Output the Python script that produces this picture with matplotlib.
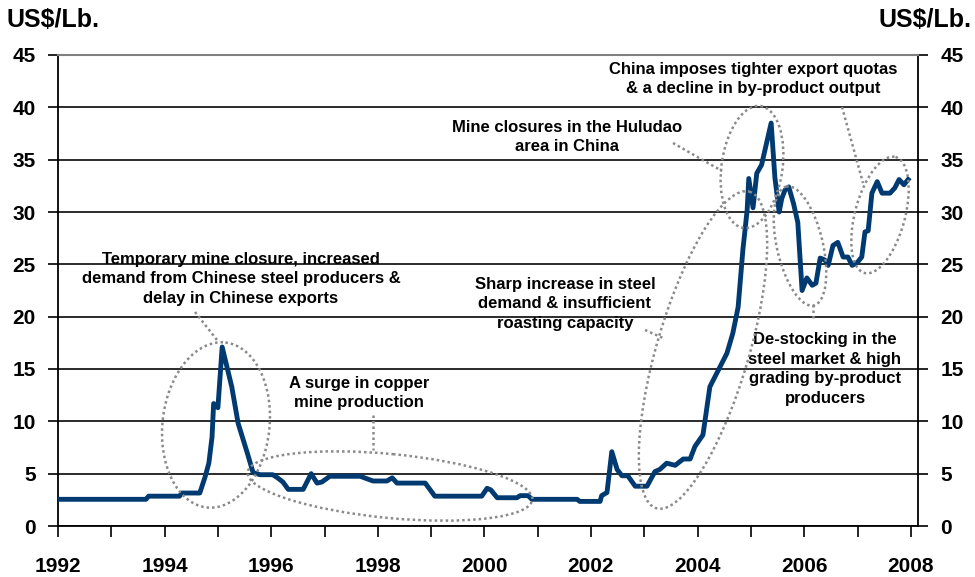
import matplotlib
matplotlib.use("Agg")
import matplotlib.pyplot as plt
from matplotlib.patches import Ellipse
from matplotlib.transforms import Affine2D

plt.rcParams['font.family'] = ['Liberation Sans', 'DejaVu Sans']
plt.rcParams['font.weight'] = 'bold'

# ---- data (decimal year, US$/Lb.) ----
years = [1992.00, 1993.65, 1993.70, 1994.28, 1994.32, 1994.66, 1994.76, 1994.83, 1994.89,
         1994.92, 1995.00, 1995.08, 1995.26, 1995.38, 1995.55, 1995.66, 1995.79, 1996.03,
         1996.12, 1996.22, 1996.32, 1996.60, 1996.75, 1996.86, 1996.95, 1997.10, 1997.67,
         1997.91, 1998.17, 1998.27, 1998.36, 1998.89, 1999.07, 1999.95, 2000.05, 2000.12,
         2000.24, 2000.61, 2000.67, 2000.82, 2000.89, 2001.74, 2001.79, 2002.17, 2002.20,
         2002.30, 2002.39, 2002.49, 2002.58, 2002.69, 2002.83, 2003.05, 2003.20, 2003.29,
         2003.42, 2003.58, 2003.73, 2003.86, 2003.95, 2004.10, 2004.14, 2004.23, 2004.36,
         2004.55, 2004.66, 2004.76, 2004.85, 2004.93, 2004.96, 2005.04, 2005.11, 2005.20,
         2005.38, 2005.45, 2005.53, 2005.58, 2005.64, 2005.71, 2005.80, 2005.88, 2005.96,
         2006.05, 2006.15, 2006.22, 2006.30, 2006.39, 2006.45, 2006.54, 2006.63, 2006.73,
         2006.82, 2006.90, 2007.00, 2007.08, 2007.14, 2007.20, 2007.27, 2007.37, 2007.46,
         2007.61, 2007.70, 2007.78, 2007.87, 2007.95]
prices = [2.55, 2.55, 2.85, 2.85, 3.15, 3.15, 4.7, 6.0, 8.5,
          11.7, 11.3, 17.1, 13.3, 9.8, 7.0, 5.1, 4.9, 4.9,
          4.6, 4.2, 3.5, 3.5, 5.0, 4.1, 4.2, 4.75, 4.75,
          4.3, 4.3, 4.6, 4.1, 4.1, 2.85, 2.85, 3.6, 3.45,
          2.7, 2.7, 2.9, 2.9, 2.55, 2.55, 2.35, 2.35, 2.9,
          3.2, 7.1, 5.4, 4.8, 4.8, 3.8, 3.8, 5.2, 5.4,
          6.0, 5.8, 6.4, 6.4, 7.6, 8.7, 10.1, 13.3, 14.6,
          16.5, 18.4, 20.9, 26.4, 30.2, 33.2, 30.4, 33.7, 34.5,
          38.5, 33.3, 30.0, 31.3, 32.1, 32.4, 30.8, 29.0, 22.5,
          23.7, 23.0, 23.2, 25.6, 25.4, 24.9, 26.8, 27.1, 25.7,
          25.7, 24.9, 25.2, 25.7, 28.1, 28.2, 31.8, 32.9, 31.8,
          31.8, 32.3, 33.1, 32.6, 33.1]

y_ticks = [0, 5, 10, 15, 20, 25, 30, 35, 40, 45]
x_ticks = list(range(1992, 2009))
x_labels = [str(y) if y % 2 == 0 else '' for y in x_ticks]
unit_label = 'US$/Lb.'

annotations = [
    ("Temporary mine closure, increased\ndemand from Chinese steel producers &\ndelay in Chinese exports", 241, 279),
    ("A surge in copper\nmine production", 359, 393),
    ("Sharp increase in steel\ndemand & insufficient\nroasting capacity", 565, 304),
    ("Mine closures in the Huludao\narea in China", 567, 137),
    ("China imposes tighter export quotas\n& a decline in by-product output", 753, 79),
    ("De-stocking in the\nsteel market & high\ngrading by-product\nproducers", 825, 369),
]
# ellipses: centre x, centre y (pixels from top-left), width, height, angle (deg, counter-clockwise)
ellipses = [
    (216, 425, 107, 166, -6.5),
    (390, 486, 286, 64, -5.5),
    (703, 350, 92, 330, -16.4),
    (752, 167, 61, 123, -8),
    (800, 246, 46, 122, 13),
    (880, 215, 50, 120, -15),
]
leaders = [
    ((195, 312), (217, 340)),
    ((373, 415), (373, 450)),
    ((645, 330), (663, 338)),
    ((673, 143), (722, 171)),
    ((842, 107), (863, 183)),
    ((813, 318), (813, 302)),
]

W, H = 975, 577
fig = plt.figure(figsize=(W / 100, H / 100), dpi=100)
ax = fig.add_axes([58 / W, 51 / H, 860 / W, 471 / H])
pix = Affine2D().scale(1 / W, -1 / H).translate(0, 1) + fig.transFigure

ax.plot(years, prices, color='#003a70', lw=3.5, solid_joinstyle='round', zorder=3)

ax.set_xlim(1992, 1992 + 860 / 53.3)
ax.set_ylim(0, 45)
ax.set_yticks(y_ticks)
ax.set_yticklabels([str(v) for v in y_ticks])
ax.set_xticks(x_ticks)
ax.set_xticklabels(x_labels)
ax.yaxis.grid(True, color='#1a1a1a', lw=1.3, zorder=1)
ax.set_axisbelow(True)
for s in ['left', 'right', 'bottom']:
    ax.spines[s].set_color('black')
    ax.spines[s].set_linewidth(1.3)
ax.spines['top'].set_color('#808080')
ax.spines['top'].set_linewidth(1.5)

ax.tick_params(axis='y', direction='out', length=7, width=1.2, pad=9,
               labelsize=15, left=True, right=True, labelleft=True, labelright=True)
ax.tick_params(axis='x', direction='out', length=8, width=1.2, pad=14, labelsize=15)
for lab in ax.get_xticklabels() + ax.get_yticklabels():
    lab.set_fontweight('bold')

fig.text(7, 20, unit_label, transform=pix, fontsize=18, fontweight='bold', ha='left', va='center')
fig.text(972, 20, unit_label, transform=pix, fontsize=18, fontweight='bold', ha='right', va='center')

for txt, x, y in annotations:
    fig.text(x, y, txt, transform=pix, fontsize=12, fontweight='bold', ha='center', va='center',
             multialignment='center', linespacing=1.4)

for cx, cy, w, h, a in ellipses:
    e = Ellipse((cx, cy), w, h, angle=-a, transform=pix, fill=False, ec='#8a8a8a',
                lw=1.8, ls=(0, (1, 1.2)), zorder=4)
    fig.add_artist(e)

for (x0, y0), (x1, y1) in leaders:
    fig.add_artist(plt.Line2D([x0, x1], [y0, y1], transform=pix, color='#8a8a8a',
                              lw=1.8, ls=(0, (1, 1.2)), zorder=4))

fig.savefig('out.png', dpi=100)
